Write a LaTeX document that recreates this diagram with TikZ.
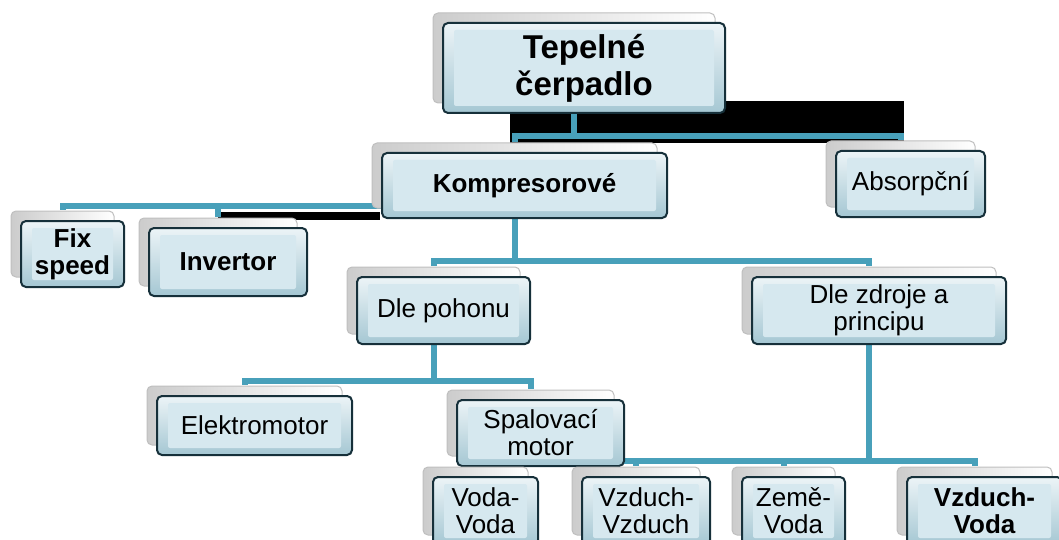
\documentclass[tikz,border=0pt]{standalone}
\usepackage{fontspec}
\setmainfont{Liberation Sans}
\usetikzlibrary{shadows}
\pgfdeclarelayer{background}
\pgfsetlayers{background,main}
\definecolor{spojcol}{RGB}{72,160,186}
\definecolor{okraj}{RGB}{22,48,58}
\definecolor{boxtop}{RGB}{236,244,247}
\definecolor{boxbot}{RGB}{165,199,211}
\definecolor{boxface}{RGB}{214,232,239}
\tikzset{
	karta/.style={draw=okraj, line width=2pt, rounded corners=5pt,
		top color=boxtop, bottom color=boxbot, align=center, inner sep=0pt,
		font=\fontsize{26}{27}\selectfont,
		path picture={\fill[boxface,rounded corners=2pt] ([shift={(11pt,-7pt)}]path picture bounding box.north west)
			rectangle ([shift={(-11pt,7pt)}]path picture bounding box.south east);},
		general shadow={shadow xshift=-10pt, shadow yshift=10pt, left color=gray!40,
			right color=white, draw=gray!50, line width=1pt}},
	tucne/.style={font=\bfseries\fontsize{26}{27}\selectfont},
	spoj/.style={draw=spojcol, line width=6pt},
}
\begin{document}
\begin{tikzpicture}[x=1pt,y=-1pt]
	\useasboundingbox (0,0) rectangle (1059,540);
	% uzly
	\node[karta,font=\bfseries\fontsize{33}{37}\selectfont,minimum width=282pt,minimum height=90pt] (tep) at (584,68) {Tepelné\\čerpadlo};
	\node[karta,tucne,minimum width=285pt,minimum height=65pt] (komp) at (524.5,185.5) {Kompresorové};
	\node[karta,minimum width=149pt,minimum height=66pt] (abs) at (910.5,184) {Absorpční};
	\node[karta,tucne,minimum width=103pt,minimum height=66pt] (fix) at (72.5,254) {Fix\\speed};
	\node[karta,tucne,minimum width=158pt,minimum height=68pt] (inv) at (228,262) {Invertor};
	\node[karta,minimum width=173pt,minimum height=67pt] (pohon) at (443.5,310.5) {Dle pohonu};
	\node[karta,minimum width=254pt,minimum height=67pt] (zdroj) at (879,310.5) {Dle zdroje a\\principu};
	\node[karta,minimum width=195pt,minimum height=59pt] (elektro) at (254.5,425.5) {Elektromotor};
	\node[karta,minimum width=167pt,minimum height=66pt] (spal) at (540.5,433) {Spalovací\\motor};
	\node[karta,minimum width=105pt,minimum height=68pt] (vv) at (485.5,511) {Voda-\\Voda};
	\node[karta,minimum width=128pt,minimum height=68pt] (vzvz) at (646,511) {Vzduch-\\Vzduch};
	\node[karta,minimum width=103pt,minimum height=68pt] (zeme) at (793.5,511) {Země-\\Voda};
	\node[karta,tucne,minimum width=155pt,minimum height=68pt] (vzvo) at (984.5,511) {Vzduch-\\Voda};
	% spoje
	\begin{pgfonlayer}{background}
		\fill[black] (510,101) rectangle (904,143);
		\fill[black] (218,212) rectangle (380,220);
		\draw[spoj] ([xshift=-10pt]tep.south) -- ++(0,22) -| ([shift={(-10pt,10pt)}]komp.north);
		\draw[spoj] ([xshift=-10pt]tep.south) -- ++(0,22) -| ([shift={(-10pt,10pt)}]abs.north);
		\draw[spoj] ([yshift=-20pt]komp.west) -| ([shift={(-10pt,10pt)}]fix.north);
		\draw[spoj] ([yshift=-20pt]komp.west) -| ([shift={(-10pt,10pt)}]inv.north);
		\draw[spoj] ([xshift=-10pt]komp.south) -- ++(0,42) -| ([shift={(-10pt,10pt)}]pohon.north);
		\draw[spoj] ([xshift=-10pt]komp.south) -- ++(0,42) -| ([shift={(-10pt,10pt)}]zdroj.north);
		\draw[spoj] ([xshift=-10pt]pohon.south) -- ++(0,36) -| ([shift={(-10pt,10pt)}]elektro.north);
		\draw[spoj] ([xshift=-10pt]pohon.south) -- ++(0,36) -| ([shift={(-10pt,10pt)}]spal.north);
		\foreach \n in {vv,vzvz,zeme,vzvo}
			\draw[spoj] ([xshift=-10pt]zdroj.south) -- ++(0,116) -| ([shift={(-10pt,10pt)}]\n.north);
	\end{pgfonlayer}
\end{tikzpicture}
\end{document}
